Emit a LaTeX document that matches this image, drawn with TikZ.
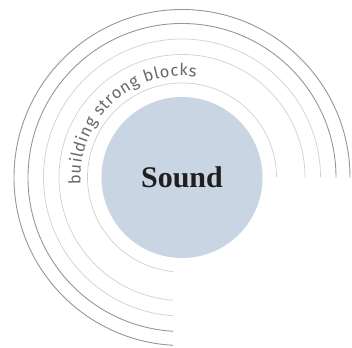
\documentclass[tikz,border=0pt]{standalone}
\usepackage{fontspec}
\setmainfont{Liberation Serif}
\newfontfamily\arcfont{Fira Sans}
\usetikzlibrary{decorations.text}
\definecolor{discblue}{RGB}{201,213,226}
\definecolor{ringdark}{RGB}{150,150,150}
\definecolor{ringlight}{RGB}{208,208,208}
\definecolor{arctext}{RGB}{105,105,105}
\tikzset{
  ringd/.style={draw=ringdark, line width=0.9pt},
  ringl/.style={draw=ringlight, line width=0.7pt},
}
\begin{document}
\begin{tikzpicture}[x=1pt,y=1pt]
  \useasboundingbox (0,0) rectangle (352,347);
  \coordinate (c) at (182,169.5);
  % rings, open in the lower right quarter
  \begin{scope}
    \clip (0,0) -- (173,0) -- (173,169.5) -- (352,169.5) -- (352,347) -- (0,347) -- cycle;
    \draw[ringl] (c) circle[radius=94.5];
    \draw[ringl] (c) circle[radius=123];
    \draw[ringl] (c) circle[radius=138.5];
    \draw[ringd] (c) circle[radius=154];
    \draw[ringd] (c) circle[radius=168];
  \end{scope}
  % central disc
  \node[circle, fill=discblue, minimum size=161pt, inner sep=0pt] (disc) at (c) {};
  \node[font=\fontsize{30}{32}\selectfont\bfseries, text=black!88] (title) at (c) {Sound};
  % curved caption
  \path[decorate, decoration={text along path, text align=fit to path,
      text={|\arcfont\fontsize{16.5}{18}\selectfont\color{arctext}|building strong blocks}}]
    (c) ++(184:101.5) arc[start angle=184, end angle=82, radius=101.5];
\end{tikzpicture}
\end{document}
